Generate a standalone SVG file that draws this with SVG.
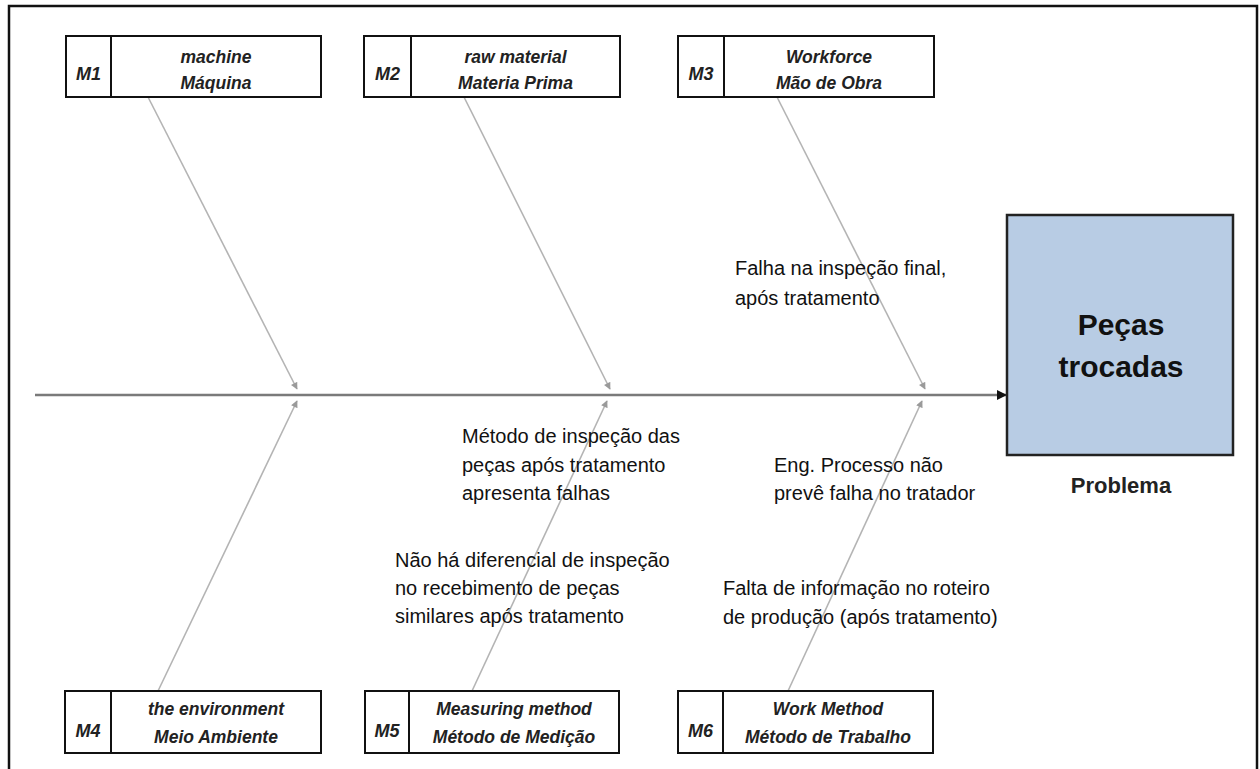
<svg xmlns="http://www.w3.org/2000/svg" width="1260" height="769" viewBox="0 0 1260 769">
  <style>
    .frame { fill: none; stroke: #111; stroke-width: 2.5; }
    .cat { fill: #fff; stroke: #111; stroke-width: 2; }
    .code { font-family: "Liberation Sans", Arial, sans-serif; font-size: 18px; font-weight: bold; font-style: italic; fill: #222; text-anchor: middle; }
    .lbl { font-family: "Liberation Sans", Arial, sans-serif; font-size: 17.5px; font-weight: bold; font-style: italic; fill: #222; text-anchor: middle; }
    .cause { font-family: "Liberation Sans", Arial, sans-serif; font-size: 20px; fill: #111; }
    .bone { stroke: #b4b4b4; stroke-width: 1.6; fill: none; marker-end: url(#tip); }
    .spine { stroke: #7a7a7a; stroke-width: 2.5; fill: none; marker-end: url(#head); }
    .prob { fill: #b8cce4; stroke: #222; stroke-width: 2.5; }
    .big { font-family: "Liberation Sans", Arial, sans-serif; font-size: 30px; font-weight: bold; fill: #111; text-anchor: middle; }
    .sub { font-family: "Liberation Sans", Arial, sans-serif; font-size: 22px; font-weight: bold; fill: #222; text-anchor: middle; }
  </style>
  <defs>
    <marker id="tip" viewBox="0 0 10 10" refX="9" refY="5" markerWidth="8" markerHeight="7" orient="auto" markerUnits="userSpaceOnUse">
      <path d="M0,0 L10,5 L0,10 z" fill="#9a9a9a"/>
    </marker>
    <marker id="head" viewBox="0 0 10 10" refX="9" refY="5" markerWidth="10" markerHeight="10" orient="auto" markerUnits="userSpaceOnUse">
      <path d="M0,0 L10,5 L0,10 z" fill="#111"/>
    </marker>
  </defs>

  <rect width="1260" height="769" fill="#fff"/>
  <rect class="frame" x="9" y="6" width="1248" height="790"/>

  <!-- spine and bones -->
  <g id="connectors">
    <line class="spine" x1="35" y1="395" x2="1006" y2="395"/>
    <line class="bone" x1="148" y1="97" x2="297" y2="389"/>
    <line class="bone" x1="464" y1="97" x2="610" y2="389"/>
    <line class="bone" x1="777" y1="97" x2="925" y2="389"/>
    <line class="bone" x1="158" y1="691" x2="297" y2="401"/>
    <line class="bone" x1="472" y1="691" x2="607" y2="401"/>
    <line class="bone" x1="788" y1="691" x2="922" y2="401"/>
  </g>

  <!-- category boxes -->
  <g id="m1">
    <rect class="cat" x="66" y="36" width="255" height="61"/>
    <line x1="111" y1="36" x2="111" y2="97" stroke="#111" stroke-width="2"/>
    <text class="code" x="88.5" y="80">M1</text>
    <text class="lbl" x="216" y="63">machine</text>
    <text class="lbl" x="216" y="89">Máquina</text>
  </g>
  <g id="m2">
    <rect class="cat" x="364" y="36" width="256" height="61"/>
    <line x1="411" y1="36" x2="411" y2="97" stroke="#111" stroke-width="2"/>
    <text class="code" x="387.5" y="80">M2</text>
    <text class="lbl" x="515.5" y="63">raw material</text>
    <text class="lbl" x="515.5" y="89">Materia Prima</text>
  </g>
  <g id="m3">
    <rect class="cat" x="678" y="36" width="256" height="61"/>
    <line x1="724" y1="36" x2="724" y2="97" stroke="#111" stroke-width="2"/>
    <text class="code" x="701" y="80">M3</text>
    <text class="lbl" x="829" y="63">Workforce</text>
    <text class="lbl" x="829" y="89">Mão de Obra</text>
  </g>
  <g id="m4">
    <rect class="cat" x="65" y="691" width="256" height="62"/>
    <line x1="111" y1="691" x2="111" y2="753" stroke="#111" stroke-width="2"/>
    <text class="code" x="88" y="737">M4</text>
    <text class="lbl" x="216" y="715">the environment</text>
    <text class="lbl" x="216" y="743">Meio Ambiente</text>
  </g>
  <g id="m5">
    <rect class="cat" x="365" y="691" width="254" height="62"/>
    <line x1="409" y1="691" x2="409" y2="753" stroke="#111" stroke-width="2"/>
    <text class="code" x="387" y="737">M5</text>
    <text class="lbl" x="514" y="715">Measuring method</text>
    <text class="lbl" x="514" y="743">Método de Medição</text>
  </g>
  <g id="m6">
    <rect class="cat" x="678" y="691" width="255" height="62"/>
    <line x1="723" y1="691" x2="723" y2="753" stroke="#111" stroke-width="2"/>
    <text class="code" x="700.5" y="737">M6</text>
    <text class="lbl" x="828" y="715">Work Method</text>
    <text class="lbl" x="828" y="743">Método de Trabalho</text>
  </g>

  <!-- causes -->
  <g id="cause-workforce">
    <text class="cause" x="735" y="275">Falha na inspeção final,</text>
    <text class="cause" x="735" y="305">após tratamento</text>
  </g>
  <g id="cause-measuring-1">
    <text class="cause" x="462" y="443">Método de inspeção das</text>
    <text class="cause" x="462" y="472">peças após tratamento</text>
    <text class="cause" x="462" y="500">apresenta falhas</text>
  </g>
  <g id="cause-measuring-2">
    <text class="cause" x="395" y="567">Não há diferencial de inspeção</text>
    <text class="cause" x="395" y="595">no recebimento de peças</text>
    <text class="cause" x="395" y="623">similares após tratamento</text>
  </g>
  <g id="cause-work-1">
    <text class="cause" x="774" y="472">Eng. Processo não</text>
    <text class="cause" x="774" y="500">prevê falha no tratador</text>
  </g>
  <g id="cause-work-2">
    <text class="cause" x="723" y="595">Falta de informação no roteiro</text>
    <text class="cause" x="723" y="624">de produção (após tratamento)</text>
  </g>

  <!-- effect -->
  <g id="problem">
    <rect class="prob" x="1007" y="215" width="226" height="240"/>
    <text class="big" x="1121" y="335">Peças</text>
    <text class="big" x="1121" y="377">trocadas</text>
    <text class="sub" x="1121" y="493">Problema</text>
  </g>
</svg>
